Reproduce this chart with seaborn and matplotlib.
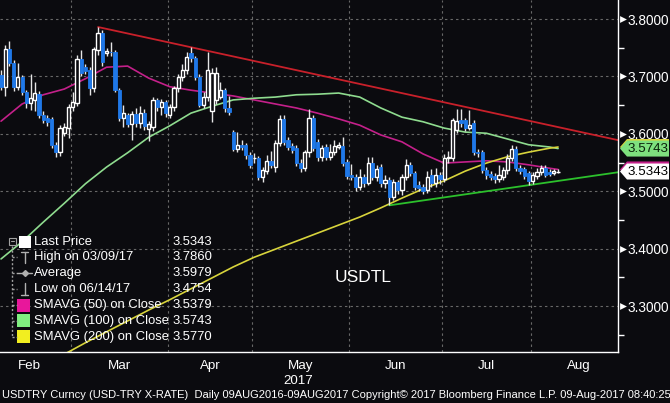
import numpy as np
import pandas as pd
import matplotlib
matplotlib.use("Agg")
import matplotlib.pyplot as plt
import matplotlib.transforms as mtransforms
from matplotlib import font_manager
from matplotlib.patches import Polygon, Rectangle
from matplotlib.lines import Line2D
import seaborn as sns

# ---------------- data ----------------
first_day = "2017-02-06"
last_day = "2017-08-09"

opens = [3.702, 3.681, 3.748, 3.723, 3.681, 3.699, 3.673, 3.654, 3.659, 3.669,
         3.633, 3.627, 3.626, 3.580, 3.568, 3.601, 3.610, 3.647, 3.654, 3.730,
         3.716, 3.711, 3.680, 3.746, 3.776, 3.741, 3.743, 3.742, 3.676, 3.628,
         3.633, 3.617, 3.635, 3.619, 3.636, 3.609, 3.612, 3.659, 3.647, 3.655,
         3.633, 3.647, 3.680, 3.699, 3.711, 3.741, 3.732, 3.699, 3.650, 3.664,
         3.640, 3.659, 3.664, 3.676, 3.645, 3.603, 3.574, 3.581, 3.580, 3.563,
         3.557, 3.558, 3.525, 3.535, 3.553, 3.542, 3.584, 3.626, 3.589, 3.579,
         3.575, 3.549, 3.540, 3.568, 3.627, 3.586, 3.560, 3.577, 3.560, 3.568,
         3.577, 3.579, 3.551, 3.528, 3.525, 3.507, 3.525, 3.514, 3.549, 3.525,
         3.542, 3.514, 3.520, 3.490, 3.516, 3.502, 3.525, 3.546, 3.532, 3.511,
         3.507, 3.502, 3.528, 3.514, 3.528, 3.521, 3.558, 3.558, 3.607, 3.624,
         3.624, 3.610, 3.619, 3.568, 3.568, 3.537, 3.530, 3.527, 3.521, 3.525,
         3.537, 3.558, 3.574, 3.540, 3.539, 3.532, 3.518, 3.526, 3.533, 3.540,
         3.533, 3.531, 3.534]
closes = [3.681, 3.748, 3.723, 3.681, 3.699, 3.673, 3.654, 3.662, 3.671, 3.633,
          3.624, 3.621, 3.580, 3.568, 3.610, 3.612, 3.647, 3.655, 3.730, 3.706,
          3.709, 3.680, 3.748, 3.776, 3.725, 3.744, 3.742, 3.676, 3.628, 3.636,
          3.617, 3.635, 3.619, 3.636, 3.614, 3.617, 3.659, 3.647, 3.655, 3.636,
          3.647, 3.680, 3.699, 3.711, 3.734, 3.732, 3.699, 3.650, 3.664, 3.711,
          3.706, 3.706, 3.676, 3.645, 3.638, 3.574, 3.581, 3.577, 3.563, 3.546,
          3.558, 3.525, 3.537, 3.553, 3.546, 3.584, 3.626, 3.586, 3.577, 3.572,
          3.549, 3.540, 3.568, 3.627, 3.575, 3.560, 3.575, 3.560, 3.568, 3.579,
          3.580, 3.549, 3.527, 3.525, 3.507, 3.525, 3.514, 3.549, 3.525, 3.538,
          3.514, 3.520, 3.490, 3.516, 3.502, 3.525, 3.546, 3.532, 3.507, 3.506,
          3.500, 3.525, 3.514, 3.528, 3.521, 3.558, 3.560, 3.624, 3.622, 3.619,
          3.610, 3.615, 3.568, 3.566, 3.537, 3.528, 3.525, 3.521, 3.528, 3.537,
          3.558, 3.574, 3.540, 3.535, 3.527, 3.518, 3.528, 3.533, 3.540, 3.528,
          3.530, 3.535, 3.5343]
highs = [3.712, 3.755, 3.762, 3.728, 3.723, 3.703, 3.677, 3.705, 3.690, 3.675,
         3.640, 3.632, 3.630, 3.585, 3.615, 3.618, 3.652, 3.672, 3.737, 3.746,
         3.722, 3.716, 3.752, 3.786, 3.780, 3.750, 3.760, 3.746, 3.680, 3.650,
         3.637, 3.640, 3.645, 3.648, 3.643, 3.622, 3.664, 3.662, 3.660, 3.659,
         3.652, 3.684, 3.704, 3.722, 3.742, 3.752, 3.736, 3.704, 3.672, 3.742,
         3.715, 3.716, 3.690, 3.680, 3.665, 3.606, 3.603, 3.590, 3.584, 3.568,
         3.566, 3.562, 3.542, 3.563, 3.570, 3.589, 3.632, 3.632, 3.595, 3.584,
         3.580, 3.556, 3.572, 3.643, 3.632, 3.591, 3.580, 3.582, 3.583, 3.590,
         3.586, 3.594, 3.556, 3.548, 3.530, 3.538, 3.530, 3.560, 3.560, 3.545,
         3.548, 3.528, 3.524, 3.521, 3.520, 3.530, 3.556, 3.551, 3.536, 3.518,
         3.512, 3.535, 3.538, 3.540, 3.533, 3.565, 3.570, 3.628, 3.643, 3.643,
         3.628, 3.641, 3.624, 3.574, 3.572, 3.542, 3.535, 3.532, 3.545, 3.542,
         3.564, 3.580, 3.579, 3.546, 3.543, 3.536, 3.533, 3.540, 3.546, 3.545,
         3.538, 3.539, 3.538]
lows = [3.676, 3.665, 3.718, 3.674, 3.676, 3.668, 3.645, 3.641, 3.640, 3.628,
        3.618, 3.614, 3.575, 3.559, 3.562, 3.596, 3.592, 3.640, 3.648, 3.700,
        3.704, 3.668, 3.672, 3.738, 3.718, 3.735, 3.736, 3.672, 3.622, 3.612,
        3.612, 3.589, 3.612, 3.610, 3.607, 3.587, 3.605, 3.640, 3.632, 3.630,
        3.628, 3.640, 3.672, 3.692, 3.705, 3.725, 3.693, 3.646, 3.645, 3.658,
        3.621, 3.652, 3.660, 3.638, 3.632, 3.570, 3.568, 3.572, 3.556, 3.540,
        3.550, 3.520, 3.516, 3.530, 3.540, 3.533, 3.578, 3.580, 3.572, 3.567,
        3.544, 3.533, 3.535, 3.560, 3.570, 3.553, 3.552, 3.554, 3.555, 3.563,
        3.573, 3.544, 3.522, 3.520, 3.500, 3.502, 3.508, 3.510, 3.520, 3.518,
        3.508, 3.506, 3.4754, 3.484, 3.496, 3.493, 3.520, 3.526, 3.502, 3.500,
        3.495, 3.497, 3.508, 3.508, 3.512, 3.516, 3.550, 3.552, 3.602, 3.612,
        3.605, 3.606, 3.563, 3.560, 3.532, 3.522, 3.520, 3.515, 3.516, 3.520,
        3.530, 3.552, 3.535, 3.530, 3.521, 3.511, 3.513, 3.521, 3.528, 3.524,
        3.526, 3.528, 3.531]

# moving averages every 5th trading day (plus the last day)
sma50 = [3.622, 3.652, 3.668, 3.678, 3.696, 3.716, 3.718, 3.697, 3.682, 3.676,
         3.671, 3.666, 3.659, 3.652, 3.645, 3.636, 3.626, 3.615, 3.598, 3.586,
         3.565, 3.549, 3.551, 3.553, 3.551, 3.546, 3.540, 3.5379]
sma100 = [3.382, 3.412, 3.446, 3.479, 3.513, 3.542, 3.567, 3.594, 3.614, 3.636,
          3.648, 3.659, 3.662, 3.664, 3.668, 3.669, 3.671, 3.664, 3.645, 3.629,
          3.621, 3.610, 3.603, 3.601, 3.591, 3.581, 3.577, 3.5743]
sma200 = [3.216, 3.236, 3.255, 3.274, 3.293, 3.311, 3.330, 3.349, 3.368, 3.385,
          3.399, 3.413, 3.427, 3.441, 3.455, 3.471, 3.488, 3.504, 3.518, 3.535,
          3.549, 3.560, 3.568, 3.575, 3.577]
sma200_first_day = "2017-02-27"

# trend lines: anchor (date, value) and value at the right edge of the chart
red_anchor = ("2017-03-09", 3.786)
red_end_value = 3.589
green_anchor = ("2017-06-14", 3.4754)
green_end_value = 3.533

month_names = ["Feb", "Mar", "Apr", "May", "Jun", "Jul", "Aug"]
year_label = "2017"
y_ticks = [3.3, 3.4, 3.5, 3.6, 3.7, 3.8]

legend_labels = ["Last Price", "High on 03/09/17", "Average", "Low on 06/14/17",
                 "SMAVG (50) on Close", "SMAVG (100) on Close", "SMAVG (200) on Close"]
legend_values = ["3.5343", "3.7860", "3.5979", "3.4754", "3.5379", "3.5743", "3.5770"]
tag_values = [3.5770, 3.5743, 3.5379, 3.5343]
ticker_text = "USDTL"
footer = ("USDTRY Curncy (USD-TRY X-RATE)  Daily 09AUG2016-09AUG2017 Copyright\u00a9 2017 "
          "Bloomberg Finance L.P. 09-Aug-2017 08:40:25")

# ---------------- style ----------------
BG = "#0b0b0f"
BLUE = "#1f78e8"
C_RED = "#c8202a"
C_GREEN = "#2cc02c"
C_MAG = "#c4208a"
C_LGREEN = "#8fdc8f"
C_YEL = "#d8d43c"
GRID = "#686868"

sns.set_theme(style="dark", rc={"axes.facecolor": BG, "figure.facecolor": BG,
                                "savefig.facecolor": BG, "axes.edgecolor": "white",
                                "text.color": "white", "xtick.color": "white",
                                "ytick.color": "white"})
names = {f.name for f in font_manager.fontManager.ttflist}
HAS_NARROW = "Liberation Sans Narrow" in names
NARROW = "Liberation Sans Narrow" if HAS_NARROW else "Liberation Sans"
plt.rcParams["font.family"] = ["Liberation Sans", "DejaVu Sans"]

W, H = 670, 403
fig = plt.figure(figsize=(W / 100, H / 100), dpi=100)
ax = fig.add_axes([0, 51 / H, 618 / W, 352 / H])
ax.set_facecolor(BG)

dates = pd.bdate_range(first_day, last_day)
n = len(dates)
xi = np.arange(n)
df = pd.DataFrame({"date": dates, "x": xi, "open": opens, "high": highs,
                   "low": lows, "close": closes})
pos = {d: i for i, d in enumerate(dates)}

XMIN, XMAX = -0.24, 146.2
YMIN, YMAX = 3.2199, 3.8331
ax.set_xlim(XMIN, XMAX)
ax.set_ylim(YMIN, YMAX)

# month boundaries and label positions from the calendar
all_days = pd.bdate_range("2017-02-01", "2017-08-31")
full_idx = np.array([np.searchsorted(dates, d) if d <= dates[-1]
                     else n - 1 + len(pd.bdate_range(dates[-1], d)) - 1
                     for d in all_days], dtype=float)
full_idx[:3] = [-3, -2, -1]
months = np.array([d.month for d in all_days])
bounds, label_pos = [], []
for m in range(2, 9):
    idx = full_idx[months == m]
    if m > 2:
        bounds.append(idx[0] - 0.5)
    label_pos.append(np.clip(idx, XMIN, XMAX).mean())

ax.set_xticks(bounds)
ax.set_xticklabels([])
ax.set_xticks(label_pos, minor=True)
ax.set_xticklabels(month_names, minor=True, fontfamily=NARROW,
                   fontsize=10.5 if HAS_NARROW else 9.6)
ax.tick_params(axis="x", which="major", length=5, width=1, color="white", direction="out")
ax.tick_params(axis="x", which="minor", length=0, pad=6, labelcolor="white")
ax.grid(True, which="major", color=GRID, linestyle=(0, (2.2, 2.8)), linewidth=0.8)

ax.yaxis.tick_right()
ax.set_yticks(y_ticks)
ax.set_yticklabels([f"{v:.4f}" for v in y_ticks], fontfamily=NARROW,
                   fontsize=11 if HAS_NARROW else 9.8)
ax.set_yticks([v - 0.05 for v in y_ticks], minor=True)
ax.tick_params(axis="y", which="major", length=0, pad=7.2, labelcolor="white")
ax.tick_params(axis="y", which="minor", length=4, width=1, color="white", direction="out")

for s in ("left", "top"):
    ax.spines[s].set_visible(False)
for s in ("right", "bottom"):
    ax.spines[s].set_color("white")
    ax.spines[s].set_linewidth(1.0)

# triangle markers at major y ticks
tri_tr = mtransforms.blended_transform_factory(ax.transAxes, ax.transData)
ax.scatter([622.5 / 618] * len(y_ticks), y_ticks, marker=">", s=24, color="white",
           transform=tri_tr, clip_on=False, zorder=6, linewidths=0)


def sampled_x(start, count):
    s = pos[pd.Timestamp(start)]
    xs = list(range(s, n, 5))
    if xs[-1] != n - 1:
        xs.append(n - 1)
    return xs[:count]


# moving averages
sns.lineplot(x=sampled_x(first_day, len(sma50)), y=sma50, ax=ax, color=C_MAG, linewidth=1.2, zorder=2)
sns.lineplot(x=sampled_x(first_day, len(sma100)), y=sma100, ax=ax, color=C_LGREEN, linewidth=1.2, zorder=2)
sns.lineplot(x=sampled_x(sma200_first_day, len(sma200)), y=sma200, ax=ax, color=C_YEL, linewidth=1.2, zorder=2)

# trend lines
sns.lineplot(x=[pos[pd.Timestamp(red_anchor[0])], XMAX], y=[red_anchor[1], red_end_value],
             ax=ax, color=C_RED, linewidth=1.3, zorder=2)
sns.lineplot(x=[pos[pd.Timestamp(green_anchor[0])], XMAX], y=[green_anchor[1], green_end_value],
             ax=ax, color=C_GREEN, linewidth=1.3, zorder=2)

# candles
up = df["close"] >= df["open"]
ax.vlines(df["x"], df["low"], df["high"], color="#e6e6e6", linewidth=1.0, zorder=3)
ax.bar(df["x"][up], (df["close"] - df["open"])[up], bottom=df["open"][up], width=0.76,
       facecolor=BG, edgecolor="white", linewidth=1.0, zorder=4)
ax.bar(df["x"][~up], (df["open"] - df["close"])[~up], bottom=df["close"][~up], width=0.76,
       facecolor=BLUE, edgecolor=BLUE, linewidth=0.6, zorder=4)

# price tags on the right axis
tag_tr = mtransforms.blended_transform_factory(fig.transFigure, ax.transData)
hh = 8 * (YMAX - YMIN) / 352
tag_fill = [C_YEL, "#7ee07e", C_MAG, "white"]
for v, fc in zip(tag_values, tag_fill):
    pts = [(620 / W, v), (627 / W, v + hh), (669 / W, v + hh), (669 / W, v - hh), (627 / W, v - hh)]
    fig.patches.append(Polygon(pts, closed=True, transform=tag_tr, facecolor=fc,
                               edgecolor="none", zorder=10))
for v, tc in ((tag_values[1], "#0a200a"), (tag_values[3], "black")):
    fig.text(648 / W, v, f"{v:.4f}", transform=tag_tr, ha="center", va="center",
             fontsize=10.5 if HAS_NARROW else 9.6, fontfamily=NARROW, color=tc, zorder=11)


def P(x, y):
    return x / W, 1 - y / H


# legend block
rows = [241.7, 257.3, 273, 289, 305, 320.8, 336.7]
for yy, lab, val in zip(rows, legend_labels, legend_values):
    fig.text(*P(34, yy), lab, ha="left", va="center", fontsize=9.4, color="white")
    fig.text(*P(212.5, yy), val, ha="right", va="center", fontsize=9.4, color="white")

pix = mtransforms.Affine2D().scale(1 / W, -1 / H).translate(0, 1) + fig.transFigure


def seg(x0, y0, x1, y1, color="#a0a0a0", lw=1.0, ls="-"):
    fig.add_artist(Line2D([x0, x1], [y0, y1], transform=pix, color=color, linewidth=lw, linestyle=ls))


seg(12, 246, 12, 337, ls=(0, (1.5, 1.5)))
for yy in rows[1:]:
    seg(12, yy, 17, yy, ls=(0, (1.5, 1.5)))
fig.add_artist(Rectangle((9, 238), 6.5, 6.5, transform=pix, facecolor="none",
                         edgecolor="#a0a0a0", linewidth=0.8))
seg(10.5, 241.3, 14, 241.3, lw=0.8)
fig.add_artist(Rectangle((19, 235.5), 11.5, 12, transform=pix, facecolor="white", edgecolor="none"))
seg(24.5, 251.5, 24.5, 263, color="#b0b0b0")
seg(21, 251.5, 28, 251.5, color="#b0b0b0")
seg(17, 273, 32, 273, color="#b0b0b0")
fig.add_artist(Line2D([24.5], [273], transform=pix, marker="D", markersize=3, color="#b0b0b0"))
seg(24.5, 283, 24.5, 294.5, color="#b0b0b0")
seg(21, 294.5, 28, 294.5, color="#b0b0b0")
for yy, c in zip(rows[4:], ["#e8179b", "#80f080", "#f2ee20"]):
    fig.add_artist(Rectangle((17, yy - 6.5), 13, 13, transform=pix, facecolor=c, edgecolor="none"))

fig.text(*P(363, 277), ticker_text, ha="center", va="center", fontsize=12.5, color="white")

fig.text(*P(298, 381), year_label, ha="center", va="center",
         fontfamily=NARROW, fontsize=10.5 if HAS_NARROW else 9.6, color="white")
fig.text(*P(2, 395), footer, ha="left", va="center", fontfamily=NARROW,
         fontsize=9.2 if HAS_NARROW else 8.0, color="white")

fig.savefig("out.png", dpi=100, facecolor=BG)
